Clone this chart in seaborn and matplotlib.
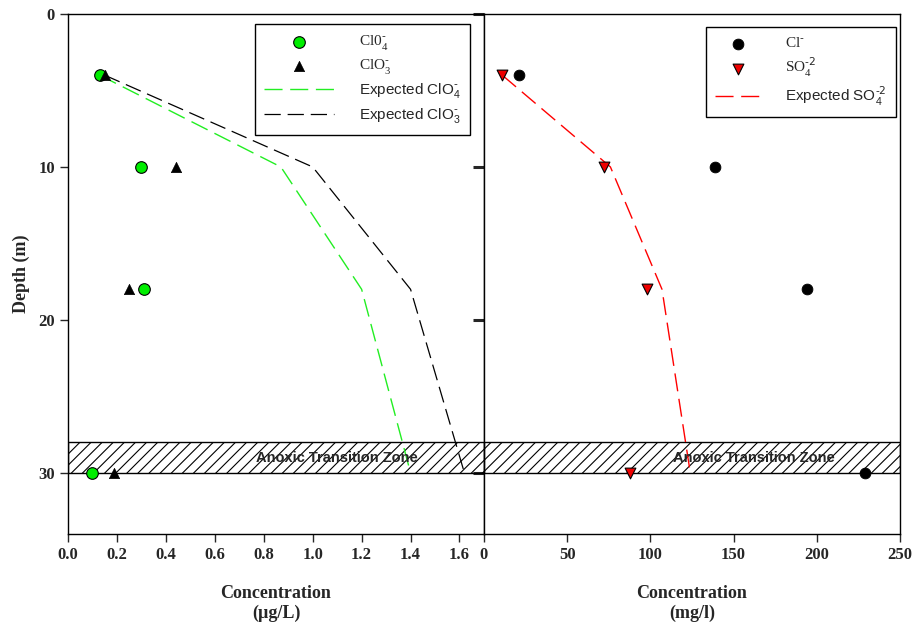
import numpy as np
import pandas as pd
import seaborn as sns
import matplotlib.pyplot as plt

# ---- data ----
depth = [4, 10, 18, 30]

clo4 = [0.13, 0.30, 0.31, 0.10]
clo3 = [0.15, 0.44, 0.25, 0.19]
exp_clo4 = [0.13, 0.87, 1.20, 1.40]
exp_clo3 = [0.15, 1.00, 1.40, 1.62]

cl = [21, 139, 194, 229]
so4 = [11, 72, 98, 88]
exp_so4 = [11, 76, 107, 124]

zone_top, zone_bottom = 28, 30
left_ticks = [0.0, 0.2, 0.4, 0.6, 0.8, 1.0, 1.2, 1.4, 1.6]
right_ticks = [0, 50, 100, 150, 200, 250]
depth_ticks = [0, 10, 20, 30]

df = pd.DataFrame({'depth': depth, 'clo4': clo4, 'clo3': clo3,
                   'exp_clo4': exp_clo4, 'exp_clo3': exp_clo3,
                   'cl': cl, 'so4': so4, 'exp_so4': exp_so4})

sns.set_theme(style='ticks')
serif = 'Liberation Serif'
sans = 'Liberation Sans'
plt.rcParams['font.family'] = [serif, 'DejaVu Sans']
plt.rcParams['hatch.linewidth'] = 0.8

fig = plt.figure(figsize=(9.14, 6.26), dpi=100)
ax1 = fig.add_axes([0.0744, 0.147, 0.4551, 0.8306])
ax2 = fig.add_axes([0.5295, 0.147, 0.4551, 0.8306])

dash = (13, 5.5)

# ---- left panel: perchlorate / chlorate ----
sns.scatterplot(data=df, x='clo4', y='depth', ax=ax1, marker='o', s=70,
                color='#00ee00', edgecolor='black', linewidth=0.8, zorder=5,
                label=r'Cl0$_{\mathregular{4}}^{\text{-}}$')
sns.scatterplot(data=df, x='clo3', y='depth', ax=ax1, marker='^', s=55,
                color='black', edgecolor='black', linewidth=0.5, zorder=5,
                label=r'ClO$_{\mathregular{3}}^{\text{-}}$')
sns.lineplot(data=df, x='exp_clo4', y='depth', ax=ax1, sort=False, estimator=None,
             color='#22ee22', lw=1, dashes=False, zorder=3,
             label=r'Expected ClO$_{\mathregular{4}}^{\text{-}}$')
sns.lineplot(data=df, x='exp_clo3', y='depth', ax=ax1, sort=False, estimator=None,
             color='black', lw=0.9, dashes=False, zorder=3,
             label=r'Expected ClO$_{\mathregular{3}}^{\text{-}}$')
for ln in ax1.get_lines():
    ln.set_dashes(dash)

# ---- right panel: chloride / sulfate ----
sns.scatterplot(data=df, x='cl', y='depth', ax=ax2, marker='o', s=60,
                color='black', edgecolor='black', zorder=5, label=r'Cl$^{\text{-}}$')
sns.scatterplot(data=df, x='so4', y='depth', ax=ax2, marker='v', s=60,
                color='#ee0000', edgecolor='black', linewidth=0.8, zorder=5,
                label=r'SO$_{\mathregular{4}}^{\text{-2}}$')
sns.lineplot(data=df, x='exp_so4', y='depth', ax=ax2, sort=False, estimator=None,
             color='#ff0000', lw=1, dashes=False, zorder=3,
             label=r'Expected SO$_{\mathregular{4}}^{\text{-2}}$')
for ln in ax2.get_lines():
    ln.set_dashes(dash)

# ---- anoxic zone band ----
for ax, xt in [(ax1, 1.10), (ax2, 162)]:
    ax.axhspan(zone_top, zone_bottom, facecolor='none', edgecolor='black',
               hatch='///', lw=1, zorder=2)
    ax.text(xt, 29, 'Anoxic Transition Zone', ha='center', va='center',
            fontsize=10.5, fontweight='bold', family=sans, zorder=6)

# ---- axes styling ----
ax1.set_xlim(0, 1.7)
ax2.set_xlim(0, 250)
for ax in (ax1, ax2):
    ax.set_ylim(34, 0)
    ax.set_yticks(depth_ticks)
    for sp in ax.spines.values():
        sp.set_visible(True)
        sp.set_color('black')
        sp.set_linewidth(1)
    ax.tick_params(axis='x', direction='out', length=6, width=1, labelsize=12)

ax1.set_xticks(left_ticks)
ax1.set_xticklabels([f'{t:.1f}' for t in left_ticks], fontweight='bold')
ax2.set_xticks(right_ticks)
ax2.set_xticklabels([str(t) for t in right_ticks], fontweight='bold')

ax1.tick_params(axis='y', direction='out', length=6, width=1, labelsize=12, left=True, right=False)
ax1.set_yticklabels([str(t) for t in depth_ticks], fontweight='bold')
# inward ticks on the shared boundary
ax1.tick_params(axis='y', which='both', right=True)
for t in ax1.yaxis.get_major_ticks():
    t.tick2line.set_markersize(8)
    t.tick2line.set_markeredgewidth(2.2)
    t.tick2line.set_marker(0)
ax2.tick_params(axis='y', left=False, right=False, labelleft=False)

ax1.set_xlabel('Concentration\n(µg/L)', fontsize=13, fontweight='bold', labelpad=16,
               linespacing=1.2)
ax2.set_xlabel('Concentration\n(mg/l)', fontsize=13, fontweight='bold', labelpad=16,
               linespacing=1.2)
ax1.set_ylabel('Depth (m)', fontsize=13, fontweight='bold', labelpad=6)
ax2.set_ylabel('')

# ---- legends ----
leg_kw = dict(frameon=True, fancybox=False, framealpha=1, edgecolor='black',
              fontsize=11, labelspacing=0.35, borderpad=0.6, borderaxespad=0)
h, l = ax1.get_legend_handles_labels()
leg1 = ax1.legend(h, l, loc='upper right', bbox_to_anchor=(0.966, 0.981),
                  handlelength=4.6, handletextpad=1.6, **leg_kw)
h, l = ax2.get_legend_handles_labels()
leg2 = ax2.legend(h, l, loc='upper right', bbox_to_anchor=(0.99, 0.975),
                  handlelength=3.1, handletextpad=1.5, **leg_kw)
for leg in (leg1, leg2):
    leg.get_frame().set_linewidth(1)
    for txt in leg.get_texts():
        if txt.get_text().startswith('Expected'):
            txt.set_fontfamily(sans)
        else:
            txt.set_fontfamily(serif)

fig.savefig('out.png', dpi=100)
